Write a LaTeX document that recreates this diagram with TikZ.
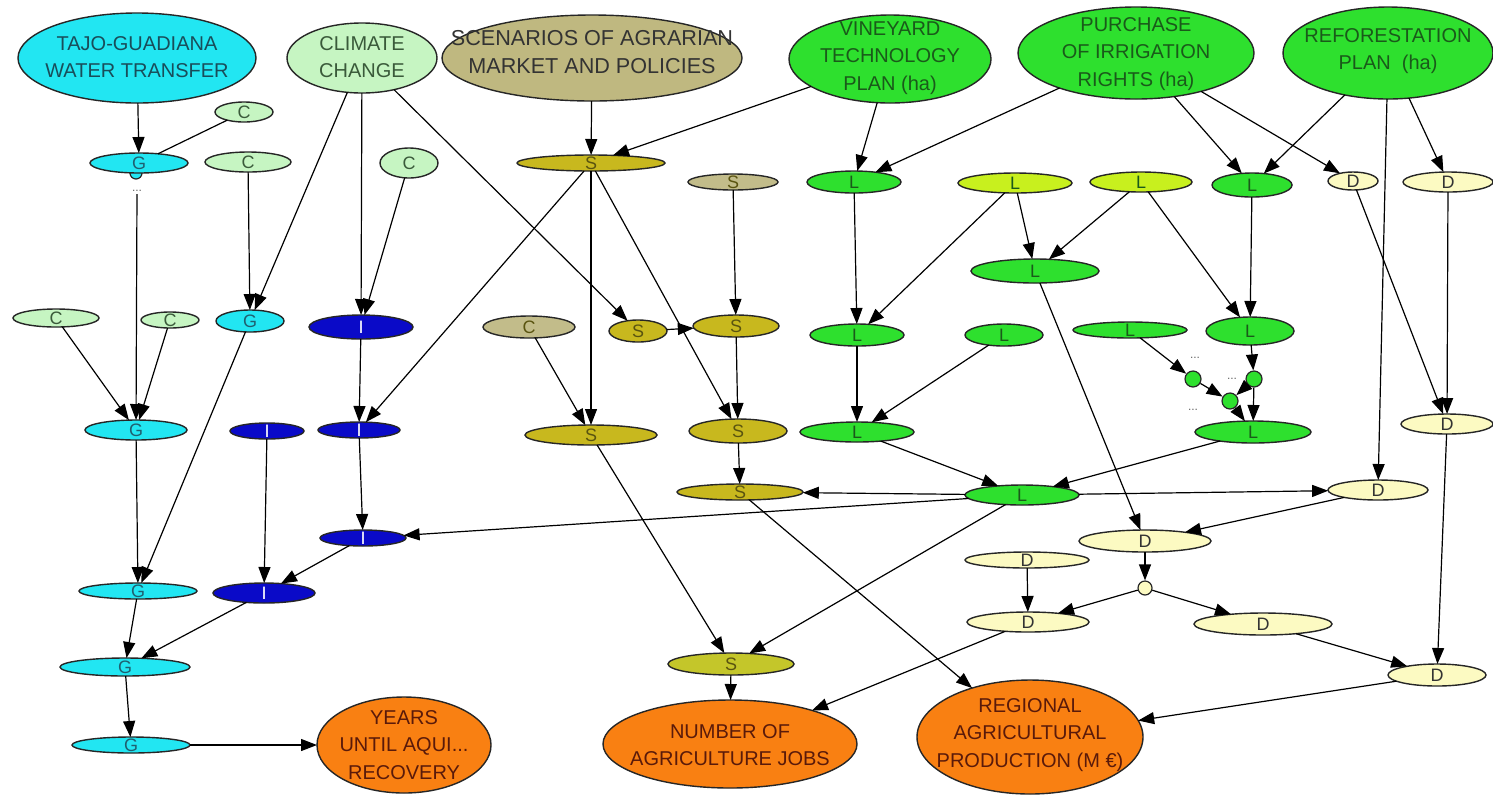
\documentclass[tikz,border=0pt]{standalone}
\usepackage{fontspec}
\setmainfont{Liberation Sans}
\usetikzlibrary{shapes.geometric,arrows.meta}
\definecolor{cyanf}{HTML}{22E6F2}
\definecolor{ccf}{HTML}{C6F5C2}
\definecolor{khaki}{HTML}{BFB880}
\definecolor{khakis}{HTML}{C2BC8A}
\definecolor{olive}{HTML}{C8B81E}
\definecolor{olivet}{HTML}{C4C62A}
\definecolor{grn}{HTML}{2EE02E}
\definecolor{ygrn}{HTML}{C8F01E}
\definecolor{dpale}{HTML}{FCFAC2}
\definecolor{blu}{HTML}{0A0AC8}
\definecolor{orng}{HTML}{F98012}
\definecolor{gtx}{HTML}{1F6070}
\definecolor{ctx}{HTML}{3A5A3A}
\definecolor{stx}{HTML}{5A5410}
\definecolor{ltx}{HTML}{1A5A1A}
\definecolor{otx}{HTML}{5A1A0A}
\tikzset{
  ell/.style 2 args={ellipse, draw=black!85, line width=0.7pt, minimum width=#1pt, minimum height=#2pt, inner sep=0pt, outer sep=0pt},
  lab/.style={font=\fontsize{9}{10}\selectfont},
  bigtxt/.style={font=\fontsize{10}{13.7}\selectfont, align=center, inner sep=0pt},
  arr/.style={-{Triangle[length=8pt,width=6pt]}, line width=0.6pt, black},
  ln/.style={line width=0.6pt, black},
  gn/.style={fill=cyanf, label={[lab,text=gtx]center:G}},
  cn/.style={fill=ccf, label={[lab,text=ctx]center:C}},
  ckn/.style={fill=khakis, label={[lab,text=stx]center:C}},
  skn/.style={fill=khakis, label={[lab,text=stx]center:S}},
  sn/.style={fill=olive, label={[lab,text=stx]center:S}},
  stn/.style={fill=olivet, label={[lab,text=stx]center:S}},
  inn/.style={fill=blu, label={[lab,text=white]center:I}},
  ln2/.style={fill=grn, label={[lab,text=ltx]center:L}},
  lyn/.style={fill=ygrn, label={[lab,text=ltx]center:L}},
  dn/.style={fill=dpale, label={[lab,text=black!80]center:D}},
  dotstxt/.style={font=\fontsize{6}{6}\selectfont, text=black!60, inner sep=1pt},
  gdot/.style={circle, draw=black!85, line width=0.6pt, fill=grn, minimum size=8pt, inner sep=0pt},
}
\begin{document}
\begin{tikzpicture}[x=0.5pt,y=-0.5pt]
\useasboundingbox (0,0) rectangle (1493,794);
\fill[white] (0,0) rectangle (1493,794);

% big nodes
\node[ell={119}{45}, fill=cyanf] (tajo) at (137,58) {};
\node[bigtxt, text=gtx!80!black] (tajot) at (137,57) {TAJO-GUADIANA\\WATER TRANSFER};
\node[ell={75}{35}, fill=ccf] (cc) at (362,58) {};
\node[bigtxt, text=ctx] (cct) at (362,57) {CLIMATE\\CHANGE};
\node[ell={150}{43}, fill=khaki] (scen) at (592,58) {};
\node[bigtxt, text=black!80, font=\fontsize{10.8}{13.7}\selectfont] (scent) at (592,52) {SCENARIOS OF AGRARIAN\\MARKET AND POLICIES};
\node[ell={101}{44}, fill=grn] (vine) at (890,59) {};
\node[bigtxt, text=ltx] (vinet) at (890,58) {VINEYARD\\TECHNOLOGY\\PLAN (ha)};
\node[ell={118}{46}, fill=grn] (purch) at (1136,53) {};
\node[bigtxt, text=ltx] (purcht) at (1136,54) {PURCHASE\\OF IRRIGATION\\RIGHTS (ha)};
\node[ell={105}{46}, fill=grn] (refor) at (1388,53) {};
\node[bigtxt, text=ltx] (refort) at (1388,51) {REFORESTATION\\PLAN\ \ (ha)};
\node[ell={87}{48}, fill=orng] (years) at (404,745) {};
\node[bigtxt, text=otx] (yearst) at (404,745) {YEARS\\UNTIL AQUI...\\RECOVERY};
\node[ell={127}{44}, fill=orng] (jobs) at (730,744) {};
\node[bigtxt, text=otx] (jobst) at (730,745) {NUMBER OF\\AGRICULTURE JOBS};
\node[ell={113}{57}, fill=orng] (regional) at (1030,737) {};
\node[bigtxt, text=otx] (regionalt) at (1030,735) {REGIONAL\\AGRICULTURAL\\PRODUCTION (M €)};

% G / C / I column
\draw[line width=0.6pt, draw=black!85, fill=cyanf] (136,173) circle[radius=6];
\node[ell={49}{10}, gn] (g1) at (139,163) {};
\node[dotstxt] (gdots) at (137,191) {...};
\node[ell={29}{10}, cn] (c1) at (244,112) {};
\node[ell={43}{10}, cn] (c2) at (248,162) {};
\node[ell={29}{15}, cn] (c3) at (409,163) {};
\node[ell={43}{9}, cn] (c4) at (56,318) {};
\node[ell={29}{8}, cn] (c5) at (170,320) {};
\node[ell={34}{11}, gn] (g2) at (250,321) {};
\node[ell={52}{12}, inn] (i1) at (361,327) {};
\node[ell={51}{10}, gn] (g3) at (136,430) {};
\node[ell={37}{8}, inn] (i2) at (267,431) {};
\node[ell={41}{8}, inn] (i3) at (359,430) {};
\node[ell={43}{8}, inn] (i4) at (363,538) {};
\node[ell={59}{8}, gn] (g4) at (138,591) {};
\node[ell={51}{10}, inn] (i5) at (264,593) {};
\node[ell={65}{9}, gn] (g5) at (125,667) {};
\node[ell={59}{8}, gn] (g6) at (131,745) {};

% S column
\node[ell={74}{8}, sn] (s1) at (591,163) {};
\node[ell={45}{8}, skn] (s0) at (733,182) {};
\node[ell={46}{11}, ckn] (c6) at (529,327) {};
\node[ell={29}{11}, sn] (s2) at (638,331) {};
\node[ell={43}{11}, sn] (s3) at (736,326) {};
\node[ell={66}{10}, sn] (s4) at (591,435) {};
\node[ell={49}{12}, sn] (s5) at (738,431) {};
\node[ell={63}{8}, sn] (s6) at (740,492) {};
\node[ell={63}{11}, stn] (s7) at (731,664) {};

% L column
\node[ell={47}{11}, ln2] (l1) at (854,182) {};
\node[ell={57}{10}, lyn] (ly1) at (1015,183) {};
\node[ell={51}{10}, lyn] (ly2) at (1141,182) {};
\node[ell={40}{12}, ln2] (l2) at (1252,185) {};
\node[ell={64}{12}, ln2] (l7) at (1035,271) {};
\node[ell={47}{11}, ln2] (l3) at (857,335) {};
\node[ell={39}{11}, ln2] (l4) at (1004,335) {};
\node[ell={57}{8}, ln2] (l5) at (1130,330) {};
\node[ell={44}{14}, ln2] (l6) at (1250,331) {};
\node[gdot] (da) at (1193,379) {};
\node[gdot] (db) at (1230,401) {};
\node[gdot] (dc) at (1254,379) {};
\node[dotstxt] (ldotsa) at (1195,358) {...};
\node[dotstxt] (ldotsb) at (1232,379) {...};
\node[dotstxt] (ldotsc) at (1193,410) {...};
\node[ell={57}{10}, ln2] (l8) at (857,432) {};
\node[ell={58}{11}, ln2] (l9) at (1253,432) {};
\node[ell={57}{10}, ln2] (lh) at (1022,495) {};

% D column
\node[ell={25}{9}, dn] (d1) at (1353,181) {};
\node[ell={45}{10}, dn] (d2) at (1448,182) {};
\node[ell={46}{10}, dn] (d3) at (1447,424) {};
\node[ell={50}{10}, dn] (d4) at (1378,490) {};
\node[ell={66}{11}, dn] (d5) at (1145,541) {};
\node[ell={62}{8}, dn] (d6) at (1027,560) {};
\node[circle, draw=black!85, line width=0.6pt, fill=dpale, minimum size=7pt, inner sep=0pt] (dd) at (1145,588) {};
\node[ell={61}{10}, dn] (d7) at (1028,622) {};
\node[ell={69}{11}, dn] (d8) at (1263,624) {};
\node[ell={49}{11}, dn] (d9) at (1437,675) {};

% edges: G / C / I
\draw[arr] (tajo) -- (g1);
\draw[ln] (c1) -- (g1);
\draw[arr] (gdots) -- (g3);
\draw[arr] (c4) -- (g3);
\draw[arr] (c5) -- (g3);
\draw[arr] (g3) -- (g4);
\draw[arr] (g2) -- (g4);
\draw[arr] (c2) -- (g2);
\draw[arr] (cc) -- (g2);
\draw[arr] (cc) -- (i1);
\draw[arr] (c3) -- (i1);
\draw[arr] (i1) -- (i3);
\draw[arr] (s1) -- (i3);
\draw[arr] (i3) -- (i4);
\draw[arr] (i2) -- (i5);
\draw[arr] (i4) -- (i5);
\draw[arr] (lh) -- (i4);
\draw[arr] (g4) -- (g5);
\draw[arr] (i5) -- (g5);
\draw[arr] (g5) -- (g6);
\draw[arr] (g6) -- (years);

% edges: S
\draw[arr] (scen) -- (s1);
\draw[arr] (vine) -- (s1);
\draw[arr] (cc) -- (s2);
\draw[arr] (s1) -- (s4);
\draw[arr] (s1) -- (s5);
\draw[arr] (s2) -- (s3);
\draw[arr] (s0) -- (s3);
\draw[arr] (s3) -- (s5);
\draw[arr] (c6) -- (s4);
\draw[arr] (s5) -- (s6);
\draw[arr] (lh) -- (s6);
\draw[arr] (s4) -- (s7);
\draw[arr] (lh) -- (s7);
\draw[arr] (s6) -- (regional);
\draw[arr] (s7) -- (jobs);
\draw[arr] (d7) -- (jobs);

% edges: L
\draw[arr] (vine) -- (l1);
\draw[arr] (purch) -- (l1);
\draw[arr] (l1) -- (l3);
\draw[arr] (ly1) -- (l3);
\draw[arr] (ly1) -- (l7);
\draw[arr] (ly2) -- (l7);
\draw[arr] (ly2) -- (l6);
\draw[arr] (purch) -- (l2);
\draw[arr] (refor) -- (l2);
\draw[arr] (l2) -- (l6);
\draw[arr] (l3) -- (l8);
\draw[arr] (l4) -- (l8);
\draw[arr] (l8) -- (lh);
\draw[arr] (l9) -- (lh);
\draw[arr] (l5) -- (da);
\draw[arr] (da) -- (db);
\draw[arr] (dc) -- (db);
\draw[arr] (db) -- (l9);
\draw[arr] (l6) -- (dc);
\draw[arr] (dc) -- (l9);

% edges: D
\draw[arr] (purch) -- (d1);
\draw[arr] (refor) -- (d2);
\draw[arr] (refor) -- (d4);
\draw[arr] (d1) -- (d3);
\draw[arr] (d2) -- (d3);
\draw[arr] (lh) -- (d4);
\draw[arr] (l7) -- (d5);
\draw[arr] (d4) -- (d5);
\draw[arr] (d5) -- (dd);
\draw[arr] (dd) -- (d7);
\draw[arr] (dd) -- (d8);
\draw[arr] (d6) -- (d7);
\draw[arr] (d8) -- (d9);
\draw[arr] (d3) -- (d9);
\draw[arr] (d9) -- (regional);
\end{tikzpicture}
\end{document}
